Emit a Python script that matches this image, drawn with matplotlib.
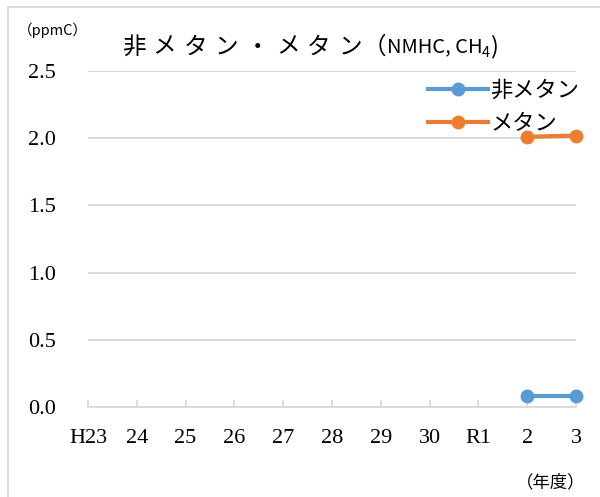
import matplotlib
matplotlib.use('Agg')
import matplotlib.pyplot as plt
from matplotlib.patches import Rectangle

## data
years = ['H23', '24', '25', '26', '27', '28', '29', '30', 'R1', '2', '3']
nmhc = [None, None, None, None, None, None, None, None, None, 0.08, 0.08]
ch4 = [None, None, None, None, None, None, None, None, None, 2.01, 2.02]
yticks = [0.0, 0.5, 1.0, 1.5, 2.0, 2.5]

jp = ['Noto Sans CJK JP', 'DejaVu Sans']
serif = ['Liberation Serif', 'DejaVu Serif']
blue = '#5b9bd5'
orange = '#ed7d31'
grid = '#d9d9d9'

fig = plt.figure(figsize=(6, 4.97), dpi=100)
ax = fig.add_axes([88/600, 1-407/497, 488/600, 336/497])

# outer chart frame
fig.patches.append(Rectangle((8/600, -0.1), 1.2, 1-7/497+0.1, transform=fig.transFigure,
                             fill=False, edgecolor=grid, linewidth=1.3))

x = list(range(len(years)))
def pts(vals):
	xs = [i for i, v in enumerate(vals) if v is not None]
	return xs, [vals[i] for i in xs]

xs, ys = pts(nmhc)
ax.plot(xs, ys, color=blue, linewidth=3, marker='o', markersize=9, label='非メタン', clip_on=False, zorder=3)
xs, ys = pts(ch4)
ax.plot(xs, ys, color=orange, linewidth=3, marker='o', markersize=9, label='メタン', clip_on=False, zorder=3)

ax.set_xlim(0, len(years)-1)
ax.set_ylim(0, 2.5)
ax.set_yticks(yticks)
ax.set_yticklabels(['%.1f' % v for v in yticks], fontfamily=serif, fontsize=16)
ax.set_xticks(x)
ax.set_xticklabels(years, fontfamily=serif, fontsize=16)
ax.yaxis.grid(True, color=grid, linewidth=1.3)
ax.set_axisbelow(True)
for s in ['top', 'right', 'left']:
	ax.spines[s].set_visible(False)
ax.spines['bottom'].set_color(grid)
ax.spines['bottom'].set_linewidth(1.3)
ax.tick_params(axis='y', length=0, pad=23)
ax.tick_params(axis='x', direction='in', length=5, color=grid, width=1.3, pad=16)

leg = ax.legend(loc='upper right', bbox_to_anchor=(588/600, 1-70/497), bbox_transform=fig.transFigure,
		frameon=False, prop={'family': jp, 'size': 16}, handlelength=2.7, handletextpad=0.1,
		labelspacing=0.45, borderaxespad=0)

# title: spaced kana, then the formula part with a subscript
fig.canvas.draw()
r = fig.canvas.get_renderer()
ty = 1-47/497
for i, ch in enumerate('非メタン・メタン'):
	fig.text((133.7 + i*30.9)/600, ty, ch, fontfamily=jp, fontsize=17, va='center', ha='center')
t0 = fig.text(363/600, ty, '（', fontfamily=jp, fontsize=17, va='center')
e0 = t0.get_window_extent(r)
t1 = fig.text(e0.x1/600, ty, 'NMHC, CH', fontfamily=jp, fontsize=14.5, va='center')
e1 = t1.get_window_extent(r)
t2 = fig.text(e1.x1/600, 1-53/497, '4', fontfamily=jp, fontsize=10.5, va='center')
e2 = t2.get_window_extent(r)
fig.text(e2.x1/600, ty, ')', fontfamily=jp, fontsize=17, va='center')

fig.text(18/600, 1-30/497, '（ppmC）', fontfamily=jp, fontsize=10.5, va='center')
fig.text(585/600, 1-482/497, '（年度）', fontfamily=jp, fontsize=12.5, va='center', ha='right')

fig.savefig('out.png', dpi=100)
